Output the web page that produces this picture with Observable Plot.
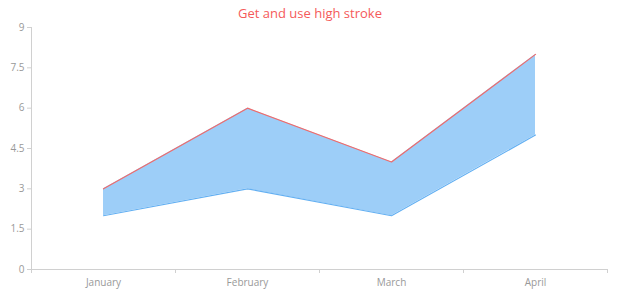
<!DOCTYPE html>
<html>
<head>
<meta charset="utf-8">
<script src="https://cdn.jsdelivr.net/npm/d3@7"></script>
<script src="https://cdn.jsdelivr.net/npm/@observablehq/plot@0.6"></script>
<style>
  body { margin: 0; background: #fff; font-family: "Open Sans", sans-serif; position: relative; }
  #title { position: absolute; top: 4px; left: 0; width: 620px; text-align: center; font-size: 13px; line-height: 18px; color: #f55a5a; z-index: 2; }
  #chart svg { overflow: visible; }
</style>
</head>
<body>
<div id="title">Get and use high stroke</div>
<div id="chart"></div>
<script>
const months = ["January", "February", "March", "April"];
const lowValues = [2, 3, 2, 5];
const highValues = [3, 6, 4, 8];
const yTicks = [0, 1.5, 3, 4.5, 6, 7.5, 9];

const data = months.map((m, i) => ({i, month: m, low: lowValues[i], high: highValues[i]}));
const bounds = d3.range(months.length + 1).map(k => k - 0.5);

const chart = Plot.plot({
  width: 620,
  height: 300,
  marginLeft: 31,
  marginRight: 13,
  marginTop: 27,
  marginBottom: 31,
  style: {fontFamily: "Open Sans, sans-serif", fontSize: "10px", color: "#999", background: "transparent"},
  x: {type: "linear", domain: [-0.5, months.length - 0.5]},
  y: {domain: [0, 9]},
  marks: [
    Plot.areaY(data, {x: "i", y1: "low", y2: "high", fill: "#9dcef8"}),
    Plot.lineY(data, {x: "i", y: "low", stroke: "#64b0f2", strokeWidth: 1.2}),
    Plot.lineY(data, {x: "i", y: "high", stroke: "#ef6b6b", strokeWidth: 1.2}),
    Plot.ruleY([0], {stroke: "#d0d0d0"}),
    Plot.ruleX([-0.5], {stroke: "#d0d0d0"}),
    Plot.axisY({ticks: yTicks, tickSize: 4, tickPadding: 3, tickFormat: d => String(d), stroke: "#d0d0d0", color: "#999", label: null}),
    Plot.axisX({ticks: bounds, tickSize: 4, tickFormat: () => "", stroke: "#d0d0d0", label: null}),
    Plot.axisX({ticks: d3.range(months.length), tickSize: 0, tickPadding: 9, tickFormat: i => months[i], color: "#999", label: null})
  ]
});
document.getElementById("chart").appendChild(chart);
</script>
</body>
</html>
